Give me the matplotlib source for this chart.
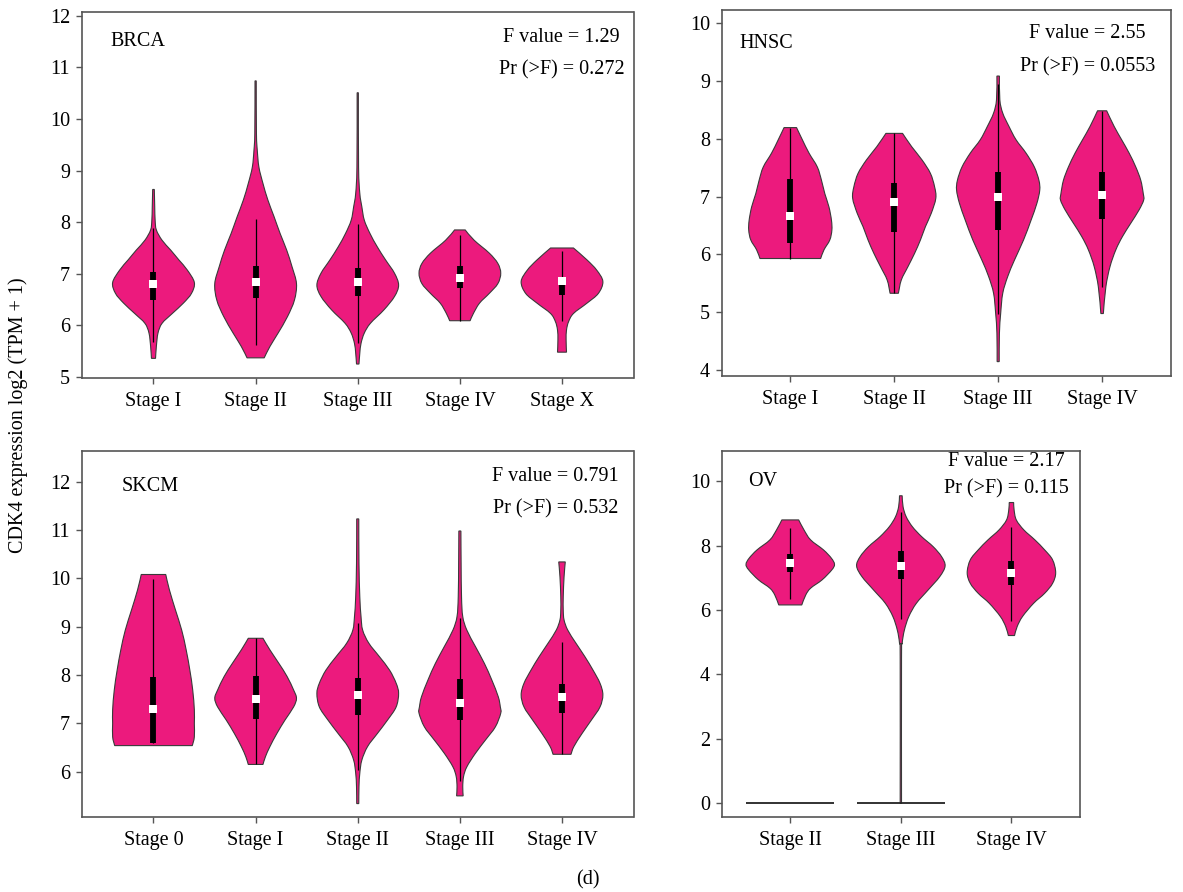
import numpy as np
import matplotlib
matplotlib.use("Agg")
import matplotlib.pyplot as plt
from matplotlib.path import Path
from matplotlib.patches import PathPatch

plt.rcParams['font.family'] = ['Liberation Serif', 'DejaVu Serif']

# ---------------- BRCA ----------------
brca_stages = ["Stage I", "Stage II", "Stage III", "Stage IV", "Stage X"]
brca_y = [
    [8.635, 8.30, 8.04, 7.85, 7.65, 7.46, 7.27, 7.07, 6.83, 6.62, 6.43, 6.23, 6.04, 5.85, 5.59, 5.36],
    [10.74, 9.72, 9.40, 9.07, 8.75, 8.43, 8.11, 7.78, 7.46, 7.14, 6.81, 6.49, 6.17, 5.85, 5.59, 5.37],
    [10.51, 9.07, 8.56, 8.30, 8.04, 7.78, 7.52, 7.27, 7.01, 6.78, 6.56, 6.30, 6.04, 5.85, 5.65, 5.46, 5.25],
    [7.85, 7.65, 7.40, 7.20, 7.01, 6.81, 6.62, 6.43, 6.23, 6.09],
    [7.50, 7.27, 7.07, 6.85, 6.62, 6.43, 6.23, 6.07, 5.91, 5.72, 5.48],
]
brca_w = [
    [0.02, 0.03, 0.04, 0.07, 0.21, 0.42, 0.62, 0.83, 1.0, 0.93, 0.73, 0.46, 0.21, 0.11, 0.07, 0.05],
    [0.015, 0.02, 0.04, 0.08, 0.18, 0.30, 0.45, 0.60, 0.76, 0.89, 1.0, 0.95, 0.78, 0.55, 0.35, 0.21],
    [0.015, 0.02, 0.05, 0.10, 0.16, 0.30, 0.48, 0.68, 0.90, 1.0, 0.90, 0.64, 0.31, 0.16, 0.08, 0.05, 0.03],
    [0.13, 0.35, 0.72, 0.93, 1.0, 0.93, 0.72, 0.48, 0.33, 0.25],
    [0.28, 0.61, 0.85, 1.0, 0.89, 0.61, 0.28, 0.16, 0.11, 0.10, 0.11],
]
brca_q1 = [6.49, 6.54, 6.57, 6.72, 6.59]
brca_med = [6.80, 6.85, 6.85, 6.91, 6.86]
brca_q3 = [7.03, 7.16, 7.12, 7.15, 6.94]
brca_lo = [5.68, 5.62, 5.66, 6.09, 6.08]
brca_hi = [7.88, 8.07, 7.96, 7.76, 7.44]
brca_yticks = [5, 6, 7, 8, 9, 10, 11, 12]

# ---------------- HNSC ----------------
hnsc_stages = ["Stage I", "Stage II", "Stage III", "Stage IV"]
hnsc_y = [
    [8.19, 7.98, 7.75, 7.51, 7.28, 7.05, 6.82, 6.59, 6.42, 6.25, 6.08, 5.93],
    [8.09, 7.86, 7.63, 7.40, 7.17, 6.97, 6.71, 6.48, 6.25, 6.02, 5.79, 5.56, 5.33],
    [9.08, 8.67, 8.44, 8.21, 7.98, 7.75, 7.51, 7.28, 7.11, 6.88, 6.59, 6.25, 5.90, 5.62, 5.33, 4.98, 4.64, 4.15],
    [8.48, 8.21, 7.98, 7.75, 7.51, 7.28, 7.05, 6.94, 6.77, 6.54, 6.31, 6.08, 5.79, 5.44, 4.98],
]
hnsc_w = [
    [0.15, 0.29, 0.45, 0.65, 0.75, 0.83, 0.93, 0.99, 1.0, 0.95, 0.81, 0.73],
    [0.20, 0.42, 0.67, 0.87, 0.97, 1.0, 0.89, 0.75, 0.63, 0.49, 0.33, 0.17, 0.10],
    [0.03, 0.04, 0.11, 0.26, 0.43, 0.67, 0.87, 0.98, 1.0, 0.93, 0.79, 0.61, 0.39, 0.23, 0.11, 0.06, 0.03, 0.025],
    [0.11, 0.29, 0.47, 0.65, 0.81, 0.93, 0.99, 1.0, 0.89, 0.69, 0.49, 0.33, 0.19, 0.09, 0.03],
]
hnsc_q1 = [6.19, 6.38, 6.43, 6.62]
hnsc_med = [6.66, 6.91, 7.00, 7.03]
hnsc_q3 = [7.30, 7.24, 7.42, 7.43]
hnsc_lo = [5.93, 5.33, 4.98, 5.43]
hnsc_hi = [8.19, 8.09, 8.95, 8.48]
hnsc_yticks = [4, 5, 6, 7, 8, 9, 10]

# ---------------- SKCM ----------------
skcm_stages = ["Stage 0", "Stage I", "Stage II", "Stage III", "Stage IV"]
skcm_y = [
    [10.08, 9.76, 9.34, 8.93, 8.52, 8.10, 7.69, 7.28, 7.00, 6.72, 6.54],
    [8.76, 8.52, 8.24, 7.97, 7.69, 7.52, 7.34, 7.07, 6.79, 6.52, 6.31, 6.15],
    [11.23, 10.31, 9.62, 9.21, 8.93, 8.66, 8.38, 8.10, 7.83, 7.62, 7.34, 7.07, 6.79, 6.52, 6.24, 5.97, 5.69, 5.34],
    [10.98, 10.31, 9.62, 9.21, 8.93, 8.59, 8.24, 7.90, 7.55, 7.34, 7.21, 6.93, 6.66, 6.38, 6.10, 5.90, 5.69, 5.50],
    [10.34, 10.03, 9.62, 9.34, 9.14, 8.93, 8.66, 8.38, 8.10, 7.83, 7.59, 7.34, 7.07, 6.79, 6.52, 6.36],
]
skcm_w = [
    [0.30, 0.39, 0.54, 0.69, 0.80, 0.89, 0.96, 1.0, 1.0, 1.0, 0.95],
    [0.18, 0.35, 0.57, 0.77, 0.93, 1.0, 0.93, 0.72, 0.52, 0.35, 0.24, 0.18],
    [0.025, 0.03, 0.05, 0.08, 0.12, 0.27, 0.53, 0.78, 0.94, 1.0, 0.94, 0.73, 0.48, 0.24, 0.10, 0.05, 0.03, 0.025],
    [0.025, 0.03, 0.04, 0.07, 0.17, 0.38, 0.60, 0.78, 0.94, 0.99, 1.0, 0.87, 0.63, 0.38, 0.17, 0.09, 0.07, 0.08],
    [0.08, 0.05, 0.03, 0.03, 0.05, 0.14, 0.34, 0.56, 0.76, 0.93, 1.0, 0.93, 0.72, 0.49, 0.29, 0.22],
]
skcm_q1 = [6.59, 7.08, 7.17, 7.07, 7.22]
skcm_med = [7.29, 7.51, 7.59, 7.43, 7.54]
skcm_q3 = [7.95, 7.98, 7.93, 7.91, 7.81]
skcm_lo = [6.59, 6.15, 6.03, 5.81, 6.36]
skcm_hi = [9.98, 8.76, 9.07, 9.17, 8.68]
skcm_yticks = [6, 7, 8, 9, 10, 11, 12]

# ---------------- OV ----------------
ov_stages = ["Stage II", "Stage III", "Stage IV"]
ov_y = [
    [8.80, 8.49, 8.18, 7.87, 7.61, 7.42, 7.25, 6.94, 6.68, 6.47, 6.16],
    [9.55, 9.21, 8.90, 8.59, 8.28, 7.97, 7.66, 7.37, 7.04, 6.63, 6.21, 5.80, 5.38, 4.97, 4.50, 0.0],
    [9.34, 9.11, 8.80, 8.49, 8.18, 7.87, 7.56, 7.16, 6.83, 6.52, 6.21, 5.80, 5.49, 5.21],
]
ov_w = [
    [0.19, 0.31, 0.46, 0.75, 0.93, 1.0, 0.94, 0.72, 0.46, 0.35, 0.26],
    [0.03, 0.05, 0.12, 0.26, 0.47, 0.73, 0.92, 1.0, 0.88, 0.62, 0.35, 0.18, 0.08, 0.03, 0.015, 0.015],
    [0.05, 0.06, 0.11, 0.28, 0.53, 0.75, 0.93, 1.0, 0.93, 0.75, 0.50, 0.25, 0.13, 0.07],
]
ov_q1 = [7.17, 6.97, 6.78]
ov_med = [7.45, 7.38, 7.14]
ov_q3 = [7.73, 7.82, 7.51]
ov_lo = [6.34, 5.71, 5.67]
ov_hi = [8.54, 9.06, 8.59]
ov_zero = [0.0, 0.0, None]
ov_yticks = [0, 2, 4, 6, 8, 10]

# ---------------- drawing ----------------
PINK = "#EC1A7D"
EDGE = "#3a3a3a"
FRAME = "#555555"
FS = 14.5

W, H = 1183, 892
fig = plt.figure(figsize=(W / 100, H / 100), dpi=100)


def px_axes(left, top, right, bottom):
    return fig.add_axes([left / W, 1 - bottom / H, (right - left) / W, (bottom - top) / H])


def smooth_side(pts):
    """Catmull-Rom curve through pts, expressed as cubic Bezier path segments."""
    p = np.vstack([pts[0], pts, pts[-1]])
    verts, codes = [], []
    for i in range(1, len(p) - 2):
        p0, p1, p2, p3 = p[i - 1], p[i], p[i + 1], p[i + 2]
        c1 = p1 + (p2 - p0) / 6.0
        c2 = p2 - (p3 - p1) / 6.0
        verts += [c1, c2, p2]
        codes += [Path.CURVE4] * 3
    return verts, codes


def violin_path(pos, ys, ws):
    y = np.asarray(ys, float)
    hw = 0.4 * np.asarray(ws, float)
    left = np.column_stack([pos - hw, y])
    right = np.column_stack([pos + hw, y])[::-1]
    verts = [left[0]]
    codes = [Path.MOVETO]
    v, c = smooth_side(left)
    verts += v
    codes += c
    verts.append(right[0])
    codes.append(Path.LINETO)
    v, c = smooth_side(right)
    verts += v
    codes += c
    verts.append(left[0])
    codes.append(Path.CLOSEPOLY)
    return Path(np.array(verts), codes)


def draw_panel(ax, stages, ys, ws, q1, med, q3, lo, hi, yticks, ylim, name, name_xy,
               fval, pval, stat_xy, zero=None):
    n = len(stages)
    pos = np.arange(1, n + 1)
    for i in range(n):
        patch = PathPatch(violin_path(pos[i], ys[i], ws[i]), facecolor=PINK,
                          edgecolor=EDGE, linewidth=0.8, zorder=2)
        ax.add_patch(patch)
        if zero is not None and zero[i] is not None:
            ax.hlines(zero[i], pos[i] - 0.4, pos[i] + 0.4, color="#222222", linewidth=1.3, zorder=3)
    ax.vlines(pos, lo, hi, color="black", linewidth=0.9, zorder=3)
    ax.vlines(pos, q1, q3, color="black", linewidth=4.2, zorder=4)
    ax.scatter(pos, med, marker="s", s=30, color="white", linewidths=0, zorder=5)
    ax.set_xlim(0.3 if n == 5 else (0.34 if n == 4 else 0.38),
                n + (0.7 if n == 5 else (0.66 if n == 4 else 0.62)))
    ax.set_ylim(*ylim)
    ax.set_xticks(pos)
    ax.set_xticklabels(stages, fontsize=FS)
    ax.set_yticks(yticks)
    ax.set_yticklabels([str(t) for t in yticks], fontsize=FS)
    for s in ax.spines.values():
        s.set_color(FRAME)
        s.set_linewidth(1.2)
    ax.tick_params(direction="out", length=4.5, width=1.0, color=FRAME, pad=4)
    ax.tick_params(axis="x", pad=6)
    ax.text(name_xy[0], name_xy[1], name, transform=ax.transAxes, ha="left", va="center",
            fontsize=FS)
    ax.text(stat_xy[0], stat_xy[1], "F value = " + fval, transform=ax.transAxes,
            ha="center", va="center", fontsize=FS)
    ax.text(stat_xy[0], stat_xy[2], "Pr (>F) = " + pval, transform=ax.transAxes,
            ha="center", va="center", fontsize=FS)


ax1 = px_axes(82, 12.3, 633.5, 377.7)
draw_panel(ax1, brca_stages, brca_y, brca_w, brca_q1, brca_med, brca_q3, brca_lo, brca_hi,
           brca_yticks, (4.985, 12.07), "BRCA", (0.051, 0.92), "1.29", "0.272",
           (0.870, 0.932, 0.842))

ax2 = px_axes(721.7, 10, 1170.7, 375.7)
draw_panel(ax2, hnsc_stages, hnsc_y, hnsc_w, hnsc_q1, hnsc_med, hnsc_q3, hnsc_lo, hnsc_hi,
           hnsc_yticks, (3.907, 10.22), "HNSC", (0.039, 0.909), "2.55", "0.0553",
           (0.815, 0.936, 0.845))

ax3 = px_axes(82, 451, 633.5, 816.7)
draw_panel(ax3, skcm_stages, skcm_y, skcm_w, skcm_q1, skcm_med, skcm_q3, skcm_lo, skcm_hi,
           skcm_yticks, (5.069, 12.635), "SKCM", (0.0725, 0.904), "0.791", "0.532",
           (0.859, 0.930, 0.841))

ax4 = px_axes(721.7, 451, 1080, 816.7)
draw_panel(ax4, ov_stages, ov_y, ov_w, ov_q1, ov_med, ov_q3, ov_lo, ov_hi,
           ov_yticks, (-0.416, 10.94), "OV", (0.0726, 0.916), "2.17", "0.115",
           (0.795, 0.971, 0.896), zero=ov_zero)

fig.text(18 / W, 1 - 415 / H, "CDK4 expression log2 (TPM + 1)", rotation=90,
         ha="center", va="center", fontsize=FS)
fig.text(588 / W, 1 - 880 / H, "(d)", ha="center", va="center", fontsize=FS)

fig.savefig("out.png", dpi=100)
